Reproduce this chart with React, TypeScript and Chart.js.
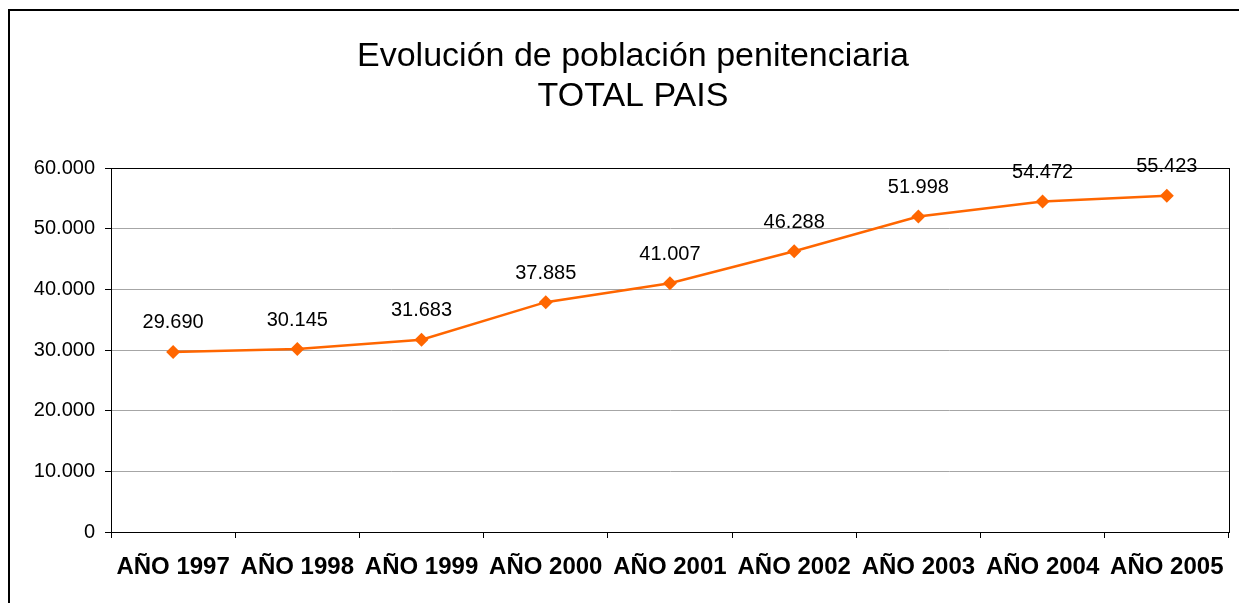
import React, { useEffect, useRef } from "react";
import { Chart, registerables } from "chart.js";

Chart.register(...registerables);

const categories = ["AÑO 1997", "AÑO 1998", "AÑO 1999", "AÑO 2000", "AÑO 2001", "AÑO 2002", "AÑO 2003", "AÑO 2004", "AÑO 2005"];
const values = [29690, 30145, 31683, 37885, 41007, 46288, 51998, 54472, 55423];
const titleLines = ["Evolución de población penitenciaria", "TOTAL PAIS"];
const yMin = 0;
const yMax = 60000;
const yStep = 10000;

const FONT = "Arial, 'Liberation Sans', sans-serif";
const fmt = (v: number) => v.toLocaleString("de-DE");

export default function App() {
  const ref = useRef<HTMLCanvasElement | null>(null);
  useEffect(() => {
    document.body.style.margin = "0";
    const canvas = ref.current!;
    const plugin = {
      id: "custom",
      afterDraw(chart: any) {
        const ctx = chart.ctx;
        const a = chart.chartArea;
        ctx.save();
        ctx.strokeStyle = "#000";
        ctx.lineWidth = 1;
        ctx.strokeRect(Math.round(a.left) + 0.5, Math.round(a.top) + 0.5, Math.round(a.right - a.left), Math.round(a.bottom - a.top));
        // title
        ctx.fillStyle = "#000";
        ctx.font = `34px ${FONT}`;
        ctx.textAlign = "center";
        ctx.textBaseline = "middle";
        ctx.fillText(titleLines[0], 633, 57);
        ctx.fillText(titleLines[1], 633, 97);
        // data labels
        ctx.font = `20px ${FONT}`;
        const meta = chart.getDatasetMeta(0);
        meta.data.forEach((pt: any, i: number) => {
          ctx.fillText(fmt(values[i]), pt.x, pt.y - 29);
        });
        ctx.restore();
      },
    };
    const chart = new Chart(canvas, {
      type: "line",
      data: {
        labels: categories,
        datasets: [
          {
            data: values,
            borderColor: "#ff6600",
            backgroundColor: "#ff6600",
            borderWidth: 2.5,
            pointStyle: "rectRot",
            pointRadius: 7,
            pointBorderWidth: 0,
            pointBackgroundColor: "#ff6600",
            tension: 0,
          },
        ],
      },
      plugins: [plugin],
      options: {
        animation: false,
        responsive: false,
        layout: { padding: { left: 0, right: 9, top: 168, bottom: 0 } },
        plugins: { legend: { display: false }, tooltip: { enabled: false }, title: { display: false } },
        scales: {
          x: {
            offset: true,
            grid: { offset: true, drawOnChartArea: false, tickLength: 6, tickColor: "#000", color: "#000" },
            border: { color: "#000" },
            ticks: { color: "#000", font: { family: FONT, size: 24, weight: "bold" }, padding: 15, maxRotation: 0, autoSkip: false },
            afterFit(scale: any) {
              scale.height = 71;
            },
          },
          y: {
            min: yMin,
            max: yMax,
            grid: { color: "#a6a6a6", tickLength: 6, tickColor: "#000" },
            border: { color: "#000" },
            ticks: { stepSize: yStep, color: "#000", font: { family: FONT, size: 20 }, padding: 10, callback: (v: any) => fmt(Number(v)) },
            afterFit(scale: any) {
              scale.width = 111;
            },
          },
        },
      },
    } as any);
    return () => chart.destroy();
  }, []);
  return (
    <div style={{ position: "relative", width: 1239, height: 603, overflow: "hidden", background: "#fff" }}>
      <div style={{ position: "absolute", left: 8, top: 9, width: 1250, height: 640, border: "2px solid #000", boxSizing: "border-box" }} />
      <canvas ref={ref} width={1239} height={603} style={{ position: "absolute", left: 0, top: 0 }} />
    </div>
  );
}
